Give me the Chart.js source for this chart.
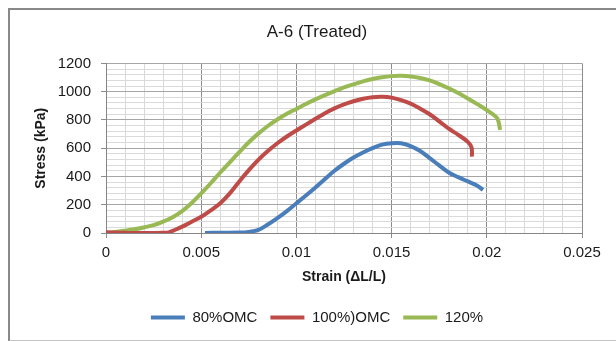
<!DOCTYPE html>
<html>
<head>
<meta charset="utf-8">
<title>A-6 (Treated)</title>
<script src="https://cdn.jsdelivr.net/npm/chart.js@4.4.1/dist/chart.umd.min.js"></script>
<style>
  html, body { margin: 0; padding: 0; background: #fff; overflow: hidden; }
  #wrap { position: relative; width: 616px; height: 341px; overflow: hidden; }
  #frame {
    position: absolute; left: 8px; top: 8px; width: 606px; height: 330px;
    border-left: 2px solid #888; border-top: 2px solid #888; border-bottom: 2px solid #c4c4c4;
  }
  #chart { position: absolute; left: 0; top: 0; }
</style>
</head>
<body>
<div id="wrap">
  <div id="frame"></div>
  <canvas id="chart" width="616" height="341"></canvas>
</div>
<script>
// data
const seriesNames = ["80%OMC", "100%)OMC", "120%"];

const strain80 = [0.0052, 0.006, 0.007, 0.0075, 0.008, 0.0085, 0.009, 0.0095, 0.01, 0.0105,
  0.011, 0.0115, 0.012, 0.0125, 0.013, 0.0135, 0.014, 0.0145, 0.015, 0.0155,
  0.016, 0.0165, 0.017, 0.0175, 0.018, 0.0185, 0.019, 0.0195, 0.0198];
const stress80 = [0, 2, 3, 8, 22, 60, 105, 155, 210, 265,
  322, 382, 440, 490, 534, 570, 600, 625, 635, 635,
  615, 580, 530, 478, 428, 395, 365, 335, 305];

const strain100 = [0, 0.0005, 0.001, 0.0015, 0.002, 0.0025, 0.003, 0.0033, 0.0035, 0.004,
  0.0045, 0.005, 0.0055, 0.006, 0.0065, 0.007, 0.0075, 0.008, 0.0085, 0.009,
  0.0095, 0.01, 0.0105, 0.011, 0.0115, 0.012, 0.0125, 0.013, 0.0135, 0.014,
  0.0145, 0.015, 0.0155, 0.016, 0.0165, 0.017, 0.0175, 0.018, 0.0185, 0.019,
  0.0192, 0.01922];
const stress100 = [5, 3, 1, 0, 0, 0, 1, 4, 15, 45,
  80, 115, 160, 210, 280, 365, 445, 518, 580, 635,
  683, 725, 767, 808, 848, 882, 910, 932, 950, 961,
  964, 958, 940, 915, 880, 840, 790, 738, 695, 645,
  605, 540];

const strain120 = [0, 0.0005, 0.001, 0.0015, 0.002, 0.0025, 0.003, 0.0035, 0.004, 0.0045,
  0.005, 0.0055, 0.006, 0.0065, 0.007, 0.0075, 0.008, 0.0085, 0.009, 0.0095,
  0.01, 0.0105, 0.011, 0.0115, 0.012, 0.0125, 0.013, 0.0135, 0.014, 0.0145,
  0.015, 0.0155, 0.016, 0.0165, 0.017, 0.0175, 0.018, 0.0185, 0.019, 0.0195,
  0.02, 0.0205, 0.0206, 0.0207];
const stress120 = [0, 8, 16, 26, 40, 56, 80, 112, 155, 212,
  280, 352, 428, 500, 572, 642, 703, 757, 803, 843,
  878, 913, 945, 975, 1003, 1030, 1052, 1073, 1090, 1102,
  1110, 1112, 1108, 1097, 1080, 1054, 1024, 990, 952, 912,
  870, 820, 795, 730];

const colors = ["#4a7ebb", "#be4b48", "#98b954"];

function toPoints(xs, ys) {
  return xs.map((x, i) => ({ x: x, y: ys[i] }));
}

const fontFamily = "'Liberation Sans', Arial, sans-serif";
const textColor = "#1a1a1a";

const datasets = [
  toPoints(strain80, stress80),
  toPoints(strain100, stress100),
  toPoints(strain120, stress120)
].map((pts, i) => ({
  label: seriesNames[i],
  data: pts,
  borderColor: colors[i],
  backgroundColor: colors[i],
  borderWidth: 4,
  pointRadius: 0,
  tension: 0.35,
  fill: false
}));

function isMajorX(v) { return Math.round(v * 1000) % 5 === 0; }
function isMajorY(v) { return Math.round(v) % 200 === 0; }

new Chart(document.getElementById("chart"), {
  type: "line",
  data: { datasets },
  options: {
    responsive: false,
    animation: false,
    devicePixelRatio: 1,
    layout: { padding: { left: 18, right: 0, top: 0, bottom: 6 } },
    plugins: {
      title: {
        display: true,
        text: "A-6 (Treated)",
        color: textColor,
        font: { family: fontFamily, size: 17, weight: "normal" },
        padding: { top: 22, bottom: 21 }
      },
      legend: {
        position: "bottom",
        labels: {
          color: textColor,
          font: { family: fontFamily, size: 15 },
          boxWidth: 34,
          boxHeight: 4,
          padding: 13,
          generateLabels(chart) {
            return Chart.defaults.plugins.legend.labels.generateLabels(chart)
              .map(l => Object.assign(l, { lineWidth: 0 }));
          }
        }
      },
      tooltip: { enabled: false }
    },
    scales: {
      x: {
        type: "linear",
        min: 0,
        max: 0.025,
        afterFit(scale) { scale.height = 64; },
        ticks: {
          stepSize: 0.001,
          autoSkip: false,
          maxRotation: 0,
          color: textColor,
          font: { family: fontFamily, size: 15 },
          padding: 6,
          callback(v) { return isMajorX(v) ? String(+v.toFixed(3)) : ""; }
        },
        grid: {
          color: c => isMajorX(c.tick.value) ? "#8c8c8c" : "#d9d9d9",
          tickColor: c => isMajorX(c.tick.value) ? "#8c8c8c" : "rgba(0,0,0,0)",
          tickLength: 5
        },
        border: { color: "#868686" },
        title: {
          display: true,
          text: "Strain (ΔL/L)",
          color: textColor,
          font: { family: fontFamily, size: 14, weight: "bold" },
          padding: { top: 0, bottom: 11 }
        }
      },
      y: {
        min: 0,
        max: 1200,
        afterFit(scale) { scale.width = 88; },
        ticks: {
          stepSize: 40,
          autoSkip: false,
          color: textColor,
          font: { family: fontFamily, size: 15 },
          padding: 10,
          callback(v) { return isMajorY(v) ? String(v) : ""; }
        },
        grid: {
          color: c => isMajorY(c.tick.value) ? "#a6a6a6" : "#dadada",
          tickColor: c => isMajorY(c.tick.value) ? "#8c8c8c" : "rgba(0,0,0,0)",
          tickLength: 5
        },
        border: { color: "#868686" },
        title: {
          display: true,
          text: "Stress (kPa)",
          color: textColor,
          font: { family: fontFamily, size: 14, weight: "bold" },
          padding: { top: 15, bottom: 0 }
        }
      },
      // empty axis on the right, only keeps room beside the plot
      spacer: {
        position: "right",
        afterFit(scale) { scale.width = 34; },
        ticks: { display: false },
        grid: { display: false },
        border: { display: false }
      }
    }
  }
});
</script>
</body>
</html>
